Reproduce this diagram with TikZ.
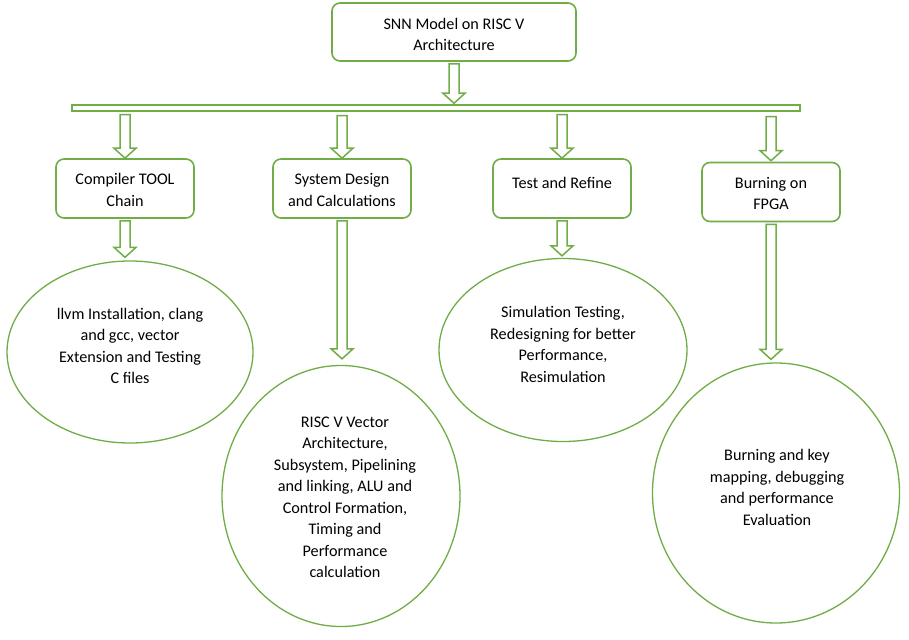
\documentclass[tikz,border=0pt]{standalone}
\usepackage{fontspec}
\setmainfont{Carlito}
\usetikzlibrary{calc,shapes.geometric}
\definecolor{gr}{HTML}{70AD47}
\newcommand\fs{\fontsize{16.2pt}{21.5pt}\selectfont}
\tikzset{
 box/.style={draw=gr, line width=1.6pt, rounded corners=8pt, fill=white, minimum width=138pt, minimum height=59pt, inner sep=0pt, align=center, font=\fs},
 oval/.style={draw=gr, line width=1.3pt, ellipse, inner sep=0pt},
 txt/.style={align=center, font=\fs, inner sep=0pt},
 blk/.style={draw=gr, line width=1.5pt, fill=white, line join=miter},
}
\newcommand\blockdown[2]{%
 \draw[blk] let \p1=#1, \p2=#2 in (\x1-5pt,\y1) -- (\x1+5pt,\y1) -- (\x1+5pt,\y2+10pt) -- (\x1+11pt,\y2+10pt) -- (\x1,\y2) -- (\x1-11pt,\y2+10pt) -- (\x1-5pt,\y2+10pt) -- cycle;}
\begin{document}
\begin{tikzpicture}[x=1pt,y=-1pt]
\useasboundingbox[fill=white] (0,0) rectangle (909,639);
% top
\node[box, minimum width=244pt, minimum height=58pt, label={[txt, yshift=-2.5pt]center:SNN Model on RISC V\\Architecture}] (top) at (454,32) {};
\node[draw=gr, line width=1.5pt, fill=white, minimum width=728pt, minimum height=6pt, inner sep=0pt] (bar) at (436,108) {};
% second level
\node[box, label={[txt, yshift=-1.5pt]center:Compiler TOOL\\Chain}] (c1) at (125,188.5) {};
\node[box, label={[txt, yshift=-1.5pt]center:System Design\\and Calculations}] (c2) at (342,188.5) {};
\node[box, label={[txt, yshift=5.5pt]center:Test and Refine}] (c3) at (562,188.5) {};
\node[box, label={[txt, yshift=-1.5pt]center:Burning on\\FPGA}] (c4) at (771,192) {};
% ellipses
\node[oval, minimum width=246pt, minimum height=182pt, label={[txt, yshift=6pt]center:llvm Installation, clang\\and gcc, vector\\Extension and Testing\\C files}] (e1) at (130,352) {};
\node[oval, minimum width=238pt, minimum height=261pt, label={[txt, xshift=4pt, yshift=-1.5pt]center:RISC V Vector\\Architecture,\\Subsystem, Pipelining\\and linking, ALU and\\Control Formation,\\Timing and\\Performance\\calculation}] (e2) at (341,496) {};
\node[oval, minimum width=248pt, minimum height=183pt, label={[txt, yshift=5.5pt]center:Simulation Testing,\\Redesigning for better\\Performance,\\Resimulation}] (e3) at (563,350) {};
\node[oval, minimum width=247pt, minimum height=260pt, label={[txt, xshift=1pt, yshift=5.5pt]center:Burning and key\\mapping, debugging\\and performance\\Evaluation}] (e4) at (776,493) {};
% arrows
\blockdown{([yshift=-2pt]top.south)}{([yshift=1pt]bar.north -| top.south)}
\blockdown{([yshift=-3pt]bar.south -| c1.north)}{(c1.north)}
\blockdown{([yshift=-4pt]bar.south -| c2.north)}{(c2.north)}
\blockdown{([yshift=-3pt]bar.south -| c3.north)}{(c3.north)}
\blockdown{([yshift=-5pt]bar.south -| c4.north)}{([yshift=1pt]c4.north)}
\blockdown{([yshift=-2pt]c1.south)}{([yshift=3pt]e1.north -| c1.south)}
\blockdown{([yshift=-2pt]c2.south)}{([yshift=6pt]e2.north -| c2.south)}
\blockdown{([yshift=-2pt]c3.south)}{([yshift=2pt]e3.north -| c3.south)}
\blockdown{([yshift=-2pt]c4.south)}{([yshift=3pt]e4.north -| c4.south)}
\end{tikzpicture}
\end{document}
